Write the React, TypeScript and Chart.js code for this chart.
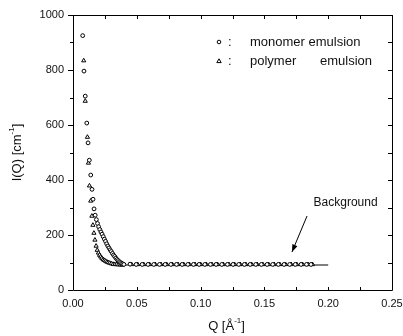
import React, { useEffect, useRef } from "react";
import { Chart, registerables } from "chart.js";

Chart.register(...registerables);

// monomer emulsion (circles)
const monomerQ = [0.0076, 0.0086, 0.0096, 0.0108, 0.0118, 0.0128, 0.0139, 0.0149, 0.0157, 0.0165, 0.0174, 0.0183, 0.0192, 0.0201, 0.0210, 0.0219, 0.0228, 0.0237, 0.0246, 0.0255, 0.0264, 0.0273, 0.0282, 0.0291, 0.0300, 0.0309, 0.0318, 0.0327, 0.0336, 0.0345, 0.0354, 0.0363, 0.0372, 0.0381, 0.0390, 0.0399];
const monomerI = [925, 796, 705, 607, 535, 472, 418, 366, 330, 295, 272, 256, 242, 230, 220, 211, 203, 194, 185, 177, 168, 160, 153, 146, 140, 133, 127, 122, 116, 111, 107, 103, 100, 97, 95, 93];

// polymer emulsion (triangles)
const polymerQ = [0.0084, 0.0096, 0.0113, 0.0121, 0.0129, 0.0139, 0.0148, 0.0156, 0.0164, 0.0172, 0.0181, 0.0190, 0.0199, 0.0208, 0.0217, 0.0226, 0.0236, 0.0246, 0.0256, 0.0266, 0.0276, 0.0288, 0.0300, 0.0314, 0.0328, 0.0342, 0.0356, 0.0370, 0.0384];
const polymerI = [834, 687, 556, 462, 379, 324, 269, 236, 207, 182, 160, 145, 135, 127, 121, 116, 111, 108, 105, 102, 100, 98, 96, 94, 93, 93, 92, 92, 91];

// high-Q tail (both samples overlap)
const tailQ = [0.0447, 0.0495, 0.0542, 0.0588, 0.0633, 0.0678, 0.0722, 0.0767, 0.0811, 0.0855, 0.0900, 0.0944, 0.0988, 0.1033, 0.1077, 0.1121, 0.1166, 0.1210, 0.1254, 0.1299, 0.1343, 0.1388, 0.1432, 0.1476, 0.1521, 0.1565, 0.1609, 0.1654, 0.1698, 0.1742, 0.1787, 0.1830, 0.1865];
const tailMonomerI = [94, 93, 93, 93, 93, 93, 93, 93, 93, 93, 93, 93, 93, 93, 93, 93, 93, 93, 93, 93, 93, 93, 93, 93, 93, 93, 93, 93, 93, 93, 93, 93, 93];
const tailPolymerI = [93, 93, 93, 93, 93, 93, 93, 93, 93, 93, 93, 93, 93, 93, 93, 93, 93, 93, 93, 93, 93, 93, 93, 93, 93, 93, 93, 93, 93, 93, 93, 93, 93];
const tailPolymerShift = 0.0012;

// background level line
const backgroundQ = [0.040, 0.200];
const backgroundI = [91, 91];

const xTicks = [0, 0.05, 0.1, 0.15, 0.2, 0.25];
const yTicks = [0, 200, 400, 600, 800, 1000];

const legendLabels = ["monomer", "emulsion", "polymer", "emulsion"];
const annotationText = "Background";

const FONT = "'Liberation Sans', Arial, Helvetica, sans-serif";

function pts(q: number[], v: number[], shift = 0) {
  return q.map((x, i) => ({ x: x + shift, y: v[i] }));
}

const framePlugin = {
  id: "frame",
  afterDraw(chart: any) {
    const ctx = chart.ctx as CanvasRenderingContext2D;
    const { left, right, top, bottom } = chart.chartArea;
    const xs = chart.scales.x;
    const ys = chart.scales.y;
    ctx.save();
    ctx.strokeStyle = "#000";
    ctx.lineWidth = 1;
    ctx.beginPath();
    ctx.rect(Math.round(left) + 0.5, Math.round(top) + 0.5, Math.round(right - left), Math.round(bottom - top));
    ctx.stroke();

    ctx.beginPath();
    for (let v = 0; v <= 0.2501; v += 0.025) {
      const px = Math.round(xs.getPixelForValue(v)) + 0.5;
      ctx.moveTo(px, bottom);
      ctx.lineTo(px, bottom - 3);
      ctx.moveTo(px, top);
      ctx.lineTo(px, top + 4);
    }
    for (let v = 0; v <= 1000.1; v += 100) {
      const py = Math.round(ys.getPixelForValue(v)) + 0.5;
      const major = Math.round(v) % 200 === 0;
      ctx.moveTo(left, py);
      ctx.lineTo(left - (major ? 5 : 3), py);
      ctx.moveTo(right, py);
      ctx.lineTo(right - 4, py);
    }
    ctx.stroke();

    // legend
    ctx.fillStyle = "#111";
    ctx.font = `13px ${FONT}`;
    ctx.textBaseline = "middle";
    ctx.textAlign = "left";
    const lx = 219;
    const ly1 = 42;
    const ly2 = 61;
    ctx.beginPath();
    ctx.arc(lx, ly1, 1.8, 0, Math.PI * 2);
    ctx.stroke();
    ctx.beginPath();
    ctx.moveTo(lx, ly2 - 2.2);
    ctx.lineTo(lx + 2.2, ly2 + 1.6);
    ctx.lineTo(lx - 2.2, ly2 + 1.6);
    ctx.closePath();
    ctx.stroke();
    ctx.fillText(":", 228, ly1);
    ctx.fillText(":", 228, ly2);
    ctx.fillText(legendLabels[0] + " " + legendLabels[1], 250, ly1);
    ctx.fillText(legendLabels[2], 250, ly2);
    ctx.fillText(legendLabels[3], 320, ly2);

    // annotation
    ctx.font = `12px ${FONT}`;
    ctx.textAlign = "center";
    ctx.fillText(annotationText, xs.getPixelForValue(0.2136), ys.getPixelForValue(316));
    const x1 = xs.getPixelForValue(0.1834);
    const y1 = ys.getPixelForValue(269);
    const x2 = xs.getPixelForValue(0.1716);
    const y2 = ys.getPixelForValue(138);
    ctx.beginPath();
    ctx.moveTo(x1, y1);
    ctx.lineTo(x2, y2);
    ctx.stroke();
    const ang = Math.atan2(y2 - y1, x2 - x1);
    const hl = 8;
    const hw = 0.35;
    ctx.beginPath();
    ctx.moveTo(x2, y2);
    ctx.lineTo(x2 - hl * Math.cos(ang - hw), y2 - hl * Math.sin(ang - hw));
    ctx.lineTo(x2 - hl * Math.cos(ang + hw), y2 - hl * Math.sin(ang + hw));
    ctx.closePath();
    ctx.fillStyle = "#000";
    ctx.fill();

    // axis titles
    ctx.fillStyle = "#111";
    const drawSup = (parts: [string, boolean][], cx: number, cy: number) => {
      let w = 0;
      const big = `13px ${FONT}`;
      const small = `8px ${FONT}`;
      for (const [t, sup] of parts) {
        ctx.font = sup ? small : big;
        w += ctx.measureText(t).width;
      }
      let x = cx - w / 2;
      ctx.textAlign = "left";
      for (const [t, sup] of parts) {
        ctx.font = sup ? small : big;
        ctx.fillText(t, x, sup ? cy - 5 : cy);
        x += ctx.measureText(t).width;
      }
    };
    drawSup([["Q [Å", false], ["-1", true], ["]", false]], (left + right) / 2 - 6, 326);
    ctx.save();
    ctx.translate(17, (top + bottom) / 2);
    ctx.rotate(-Math.PI / 2);
    drawSup([["I(Q) [cm", false], ["-1", true], ["]", false]], 0, 0);
    ctx.restore();

    ctx.restore();
  },
};

export default function App() {
  const ref = useRef<HTMLCanvasElement | null>(null);
  useEffect(() => {
    if (!ref.current) return;
    const chart = new Chart(ref.current, {
      type: "scatter",
      data: {
        datasets: [
          {
            label: "monomer emulsion",
            data: [...pts(monomerQ, monomerI), ...pts(tailQ, tailMonomerI)],
            pointStyle: "circle",
            pointRadius: 1.9,
            pointBorderWidth: 1,
            borderColor: "#000",
            backgroundColor: "#fff",
            showLine: false,
          },
          {
            label: "polymer emulsion",
            data: [...pts(polymerQ, polymerI), ...pts(tailQ, tailPolymerI, tailPolymerShift)],
            pointStyle: "triangle",
            pointRadius: 2.4,
            pointBorderWidth: 1,
            borderColor: "#000",
            backgroundColor: "#fff",
            showLine: false,
          },
          {
            label: "background",
            data: pts(backgroundQ, backgroundI),
            showLine: true,
            pointRadius: 0,
            borderColor: "#000",
            borderWidth: 1.2,
          },
        ],
      },
      options: {
        animation: false,
        responsive: false,
        devicePixelRatio: 1,
        layout: { padding: { top: 15, right: 11, left: 0, bottom: 0 } },
        plugins: { legend: { display: false }, tooltip: { enabled: false } },
        scales: {
          x: {
            type: "linear",
            min: 0,
            max: 0.25,
            afterFit: (s: any) => { s.height = 46; s.paddingLeft = 0; s.paddingRight = 0; },
            afterBuildTicks: (s: any) => { s.ticks = xTicks.map((v) => ({ value: v })); },
            ticks: {
              padding: 7,
              color: "#111",
              font: { family: FONT, size: 11 },
              callback: (v: any) => Number(v).toFixed(2),
            },
            grid: { display: false, drawTicks: false },
            border: { display: false },
          },
          y: {
            type: "linear",
            min: 0,
            max: 1000,
            afterFit: (s: any) => { s.width = 73; s.paddingTop = 0; s.paddingBottom = 0; },
            afterBuildTicks: (s: any) => { s.ticks = yTicks.map((v) => ({ value: v })); },
            ticks: {
              padding: 9,
              color: "#111",
              font: { family: FONT, size: 11 },
              callback: (v: any) => String(v),
            },
            grid: { display: false, drawTicks: false },
            border: { display: false },
          },
        },
      },
      plugins: [framePlugin],
    });
    return () => chart.destroy();
  }, []);
  return (
    <div style={{ position: "absolute", left: 0, top: 0, width: 403, height: 336, background: "#fff" }}>
      <canvas ref={ref} width={403} height={336} style={{ width: 403, height: 336 }} />
    </div>
  );
}
